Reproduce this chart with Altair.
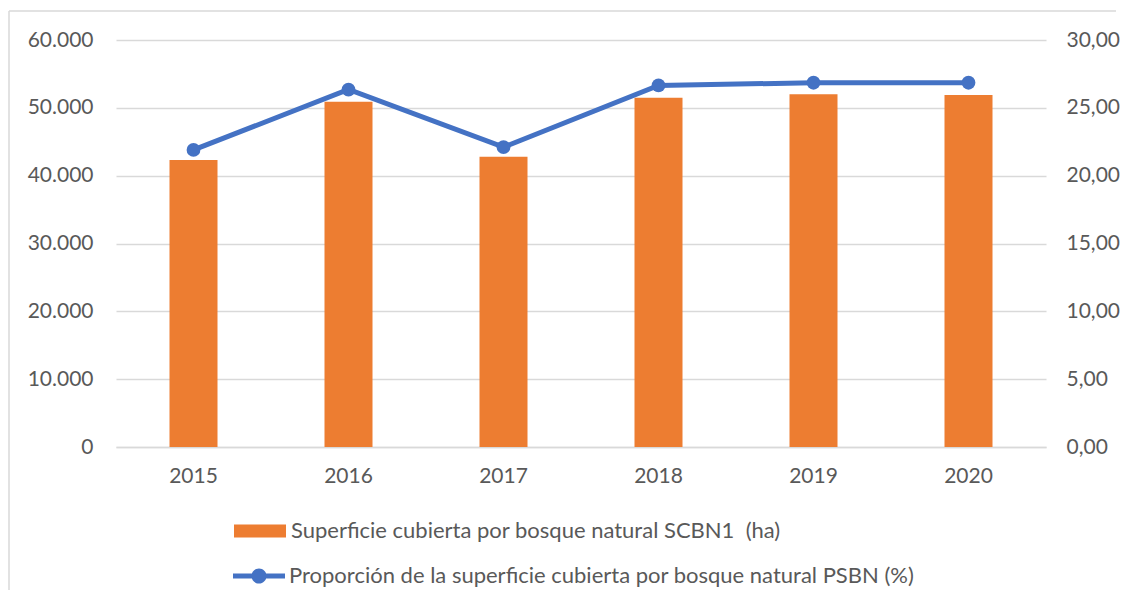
import altair as alt
import pandas as pd

years = ["2015", "2016", "2017", "2018", "2019", "2020"]
superficie = [42300, 50900, 42800, 51500, 52000, 51900]
proporcion = [21.9, 26.35, 22.1, 26.65, 26.85, 26.85]

bar_label = "Superficie cubierta por bosque natural SCBN1\u00a0 (ha)"
line_label = "Proporción de la superficie cubierta por bosque natural PSBN (%)"

left_ticks = [0, 10000, 20000, 30000, 40000, 50000, 60000]
right_ticks = [0, 5, 10, 15, 20, 25, 30]

ORANGE = "#ED7D31"
BLUE = "#4472C4"
GRID = "#D9D9D9"
TXT = "#595959"
FONT = "Lato"

df = pd.DataFrame({
    "year": years,
    "superficie": superficie,
    "proporcion": proporcion,
    "s_bar": [bar_label] * len(years),
    "s_line": [line_label] * len(years),
})

# legend symbol paths (unit = 13px with symbolSize 676)
rect_path = "M-2,-0.5H2V0.5H-2Z"
line_path = ("M-2,-0.2H-0.52V0.2H-2Z"
             "M0.52,-0.2H2V0.2H0.52Z"
             "M-0.58,0A0.58,0.58 0 1,1 0.58,0A0.58,0.58 0 1,1 -0.58,0Z")

x_enc = alt.X(
    "year:N",
    sort=years,
    scale=alt.Scale(paddingInner=0, paddingOuter=0),
    axis=alt.Axis(
        title=None, labelAngle=0, ticks=False, domain=True,
        domainColor=GRID, domainWidth=1.3, labelFontSize=21,
        labelColor=TXT, labelPadding=18, labelFont=FONT,
    ),
)

base = alt.Chart(df)

bars = base.mark_bar(size=48, color=ORANGE).encode(
    x=x_enc,
    y=alt.Y(
        "superficie:Q",
        scale=alt.Scale(domain=[0, 60000], nice=False, zero=True),
        axis=alt.Axis(
            title=None, values=left_ticks, orient="left", ticks=False,
            domain=False, grid=True, gridColor=GRID, gridWidth=1.3,
            labelFontSize=21, labelColor=TXT, labelPadding=23, labelFont=FONT,
            labelExpr="replace(format(datum.value, ',.0f'), ',', '.')",
        ),
    ),
    color=alt.Color(
        "s_bar:N",
        scale=alt.Scale(range=[ORANGE]),
        legend=alt.Legend(
            title=None, orient="none", legendX=131, legendY=478,
            symbolType=rect_path, symbolSize=676, symbolStrokeWidth=0,
            labelFontSize=22, labelColor=TXT, labelFont=FONT,
            labelOffset=18, padding=0, labelLimit=900,
        ),
    ),
)

line = base.mark_line(color=BLUE, strokeWidth=5).encode(
    x=x_enc,
    y=alt.Y(
        "proporcion:Q",
        scale=alt.Scale(domain=[0, 30], nice=False, zero=True),
        axis=alt.Axis(
            title=None, values=right_ticks, orient="right", ticks=False,
            domain=False, grid=False, labelFontSize=21, labelColor=TXT,
            labelPadding=20, labelFont=FONT,
            labelExpr="replace(format(datum.value, '.2f'), '.', ',')",
        ),
    ),
)

points = base.mark_circle(size=190, opacity=1).encode(
    x=x_enc,
    y=alt.Y("proporcion:Q"),
    color=alt.Color(
        "s_line:N",
        scale=alt.Scale(range=[BLUE]),
        legend=alt.Legend(
            title=None, orient="none", legendX=130, legendY=523,
            symbolType=line_path, symbolSize=676, symbolStrokeWidth=0,
            symbolOpacity=1,
            labelFontSize=22, labelColor=TXT, labelFont=FONT,
            labelOffset=17, padding=0, labelLimit=900,
        ),
    ),
)

frame_data = alt.Data(values=[{"k": 1}])
frame_left = alt.Chart(frame_data).mark_rule(color=GRID, strokeWidth=1.5).encode(
    x=alt.value(-107), y=alt.value(-29), y2=alt.value(550),
)
frame_top = alt.Chart(frame_data).mark_rule(color=GRID, strokeWidth=1.5).encode(
    x=alt.value(-107), x2=alt.value(1000), y=alt.value(-29),
)

right_layer = alt.layer(line, points)

chart = alt.layer(frame_left, frame_top, bars, right_layer).resolve_scale(
    y="independent", color="independent"
).properties(
    width=930, height=407, padding={"left": 0, "top": 2, "right": 0, "bottom": 0},
).configure(
    font=FONT,
).configure_view(
    stroke=None,
)

chart.save("out.html", embed_options={"renderer": "svg", "actions": False})
